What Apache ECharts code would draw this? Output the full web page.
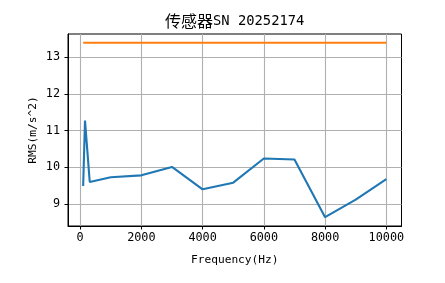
<!DOCTYPE html>
<html><head><meta charset="utf-8">
<script src="https://cdn.jsdelivr.net/npm/echarts@6/dist/echarts.min.js"></script>
<style>html,body{margin:0;padding:0;background:#fff}#c{width:445px;height:283px}</style>
</head><body><div id="c"></div>
<script>
const titleText = '传感器SN 20252174';
const xName = 'Frequency(Hz)';
const yName = 'RMS(m/s^2)';
const freqs = [100, 160, 315, 1000, 2000, 3000, 4000, 5000, 6000, 7000, 8000, 9000, 10000];
const rms = [9.49, 11.27, 9.60, 9.73, 9.78, 10.01, 9.40, 9.58, 10.24, 10.21, 8.64, 9.12, 9.68];
const limitFreqs = [100, 10000];
const limitValues = [13.39, 13.39];
const xTicks = [0, 2000, 4000, 6000, 8000, 10000];
const yTicks = [9, 10, 11, 12, 13];

const mono = '"DejaVu Sans Mono", "Noto Sans CJK SC", monospace';
const chart = echarts.init(document.getElementById('c'), null, {renderer: 'canvas'});
chart.setOption({
  animation: false,
  backgroundColor: '#fff',
  title: {
    text: '{a|传感器}{b|SN 20252174}',
    left: 160, top: 8,
    textStyle: {
      fontWeight: 'normal',
      rich: {
        a: {fontFamily: '"Noto Sans CJK SC"', fontSize: 16, fontWeight: 'normal', color: '#000'},
        b: {fontFamily: mono, fontSize: 13.8, fontWeight: 'normal', color: '#000'}
      }
    }
  },
  grid: {left: 68, right: 43.5, top: 34, bottom: 57, show: true, borderColor: '#000', borderWidth: 1, backgroundColor: 'transparent'},
  xAxis: {
    type: 'value', min: -395, max: 10495,
    name: xName, nameLocation: 'middle', nameGap: 28, nameMoveOverlap: false,
    nameTextStyle: {fontFamily: mono, fontSize: 11.2, color: '#000'},
    axisLine: {show: true, onZero: false, lineStyle: {color: '#000', width: 1}},
    axisTick: {show: true, length: 3.5, customValues: xTicks, lineStyle: {color: '#000', width: 1}},
    axisLabel: {customValues: xTicks, formatter: v => String(v), fontFamily: mono, fontSize: 11.8, color: '#000', margin: 6},
    splitLine: {show: true, customValues: xTicks, lineStyle: {color: '#b0b0b0', width: 1.1}}
  },
  yAxis: {
    type: 'value', min: 8.40, max: 13.63,
    name: yName, nameLocation: 'middle', nameGap: 29, nameRotate: 90, nameMoveOverlap: false,
    nameTextStyle: {fontFamily: mono, fontSize: 11.2, color: '#000'},
    axisLine: {show: true, onZero: false, lineStyle: {color: '#000', width: 1}},
    axisTick: {show: true, length: 3.5, customValues: yTicks, lineStyle: {color: '#000', width: 1}},
    axisLabel: {customValues: yTicks, formatter: v => String(v), fontFamily: mono, fontSize: 11.8, color: '#000', margin: 8},
    splitLine: {show: true, customValues: yTicks, lineStyle: {color: '#b0b0b0', width: 1.1}}
  },
  series: [
    {type: 'line', data: freqs.map((f, i) => [f, rms[i]]), symbol: 'none', lineStyle: {color: '#1f77b4', width: 2.1}, itemStyle: {color: '#1f77b4'}, z: 3},
    {type: 'line', data: limitFreqs.map((f, i) => [f, limitValues[i]]), symbol: 'none', lineStyle: {color: '#ff7f0e', width: 2.1}, itemStyle: {color: '#ff7f0e'}, z: 4}
  ]
});
</script></body></html>
